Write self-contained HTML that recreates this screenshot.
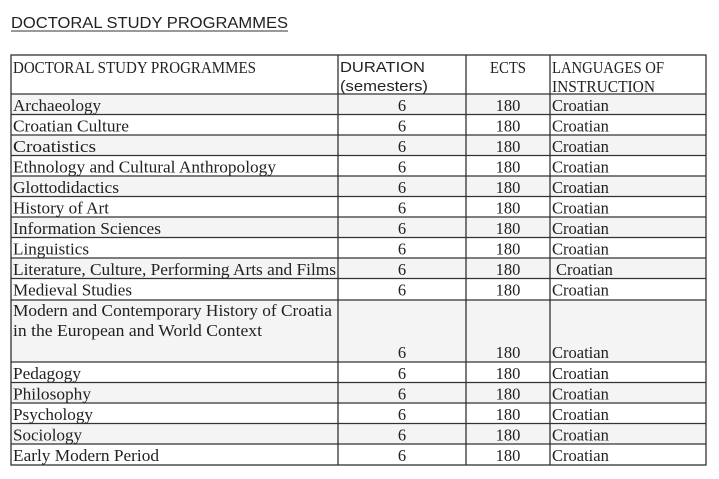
<!DOCTYPE html>
<html><head><meta charset="utf-8"><style>
html,body{margin:0;padding:0;background:#fff;width:719px;height:479px;overflow:hidden}
svg{display:block}
.s{font-family:"Liberation Serif",serif;font-size:16.5px;fill:#222}
.a{font-family:"Liberation Sans",sans-serif;font-size:15px;fill:#222}
</style></head><body>
<svg width="719" height="479" xmlns="http://www.w3.org/2000/svg">
<text x="11" y="28" class="a" style="font-size:16px" textLength="277" lengthAdjust="spacingAndGlyphs">DOCTORAL STUDY PROGRAMMES</text>
<line x1="11" y1="31" x2="288" y2="31" stroke="#333" stroke-width="1"/>
<g fill="#f4f4f4">
<rect x="11" y="94" width="695" height="20.5"/>
<rect x="11" y="135" width="695" height="20.5"/>
<rect x="11" y="176" width="695" height="20.5"/>
<rect x="11" y="217" width="695" height="20.5"/>
<rect x="11" y="258" width="695" height="20.5"/>
<rect x="11" y="300" width="695" height="62"/>
<rect x="11" y="382.5" width="695" height="20.5"/>
<rect x="11" y="423.5" width="695" height="20.5"/>
</g>
<g stroke="#333" stroke-width="1.3" fill="none">
<rect x="11" y="55" width="695" height="410"/>
<line x1="338" y1="55" x2="338" y2="465"/>
<line x1="466" y1="55" x2="466" y2="465"/>
<line x1="550" y1="55" x2="550" y2="465"/>
<line x1="11" y1="94" x2="706" y2="94"/>
<line x1="11" y1="114.5" x2="706" y2="114.5"/>
<line x1="11" y1="135" x2="706" y2="135"/>
<line x1="11" y1="155.5" x2="706" y2="155.5"/>
<line x1="11" y1="176" x2="706" y2="176"/>
<line x1="11" y1="196.5" x2="706" y2="196.5"/>
<line x1="11" y1="217" x2="706" y2="217"/>
<line x1="11" y1="237.5" x2="706" y2="237.5"/>
<line x1="11" y1="258" x2="706" y2="258"/>
<line x1="11" y1="278.5" x2="706" y2="278.5"/>
<line x1="11" y1="300" x2="706" y2="300"/>
<line x1="11" y1="362" x2="706" y2="362"/>
<line x1="11" y1="382.5" x2="706" y2="382.5"/>
<line x1="11" y1="403" x2="706" y2="403"/>
<line x1="11" y1="423.5" x2="706" y2="423.5"/>
<line x1="11" y1="444" x2="706" y2="444"/>
</g>
<g class="s" lengthAdjust="spacingAndGlyphs">
<text x="13" y="73" textLength="243" lengthAdjust="spacingAndGlyphs">DOCTORAL STUDY PROGRAMMES</text>
<text x="490" y="73" textLength="36" lengthAdjust="spacingAndGlyphs">ECTS</text>
<text x="552" y="73" textLength="112" lengthAdjust="spacingAndGlyphs">LANGUAGES OF</text>
<text x="552" y="92" textLength="103" lengthAdjust="spacingAndGlyphs">INSTRUCTION</text>
</g>
<text x="340" y="72" class="a" textLength="85" lengthAdjust="spacingAndGlyphs">DURATION</text>
<text x="340" y="91" class="a" textLength="88" lengthAdjust="spacingAndGlyphs">(semesters)</text>
<g class="s">
<text x="13" y="111" textLength="88" lengthAdjust="spacingAndGlyphs">Archaeology</text>
<text x="13" y="131.5" textLength="116" lengthAdjust="spacingAndGlyphs">Croatian Culture</text>
<text x="13" y="152" textLength="83" lengthAdjust="spacingAndGlyphs">Croatistics</text>
<text x="13" y="172.5" textLength="263" lengthAdjust="spacingAndGlyphs">Ethnology and Cultural Anthropology</text>
<text x="13" y="193" textLength="106" lengthAdjust="spacingAndGlyphs">Glottodidactics</text>
<text x="13" y="213.5" textLength="96" lengthAdjust="spacingAndGlyphs">History of Art</text>
<text x="13" y="234" textLength="148" lengthAdjust="spacingAndGlyphs">Information Sciences</text>
<text x="13" y="254.5" textLength="76" lengthAdjust="spacingAndGlyphs">Linguistics</text>
<text x="13" y="275" textLength="323" lengthAdjust="spacingAndGlyphs">Literature, Culture, Performing Arts and Films</text>
<text x="13" y="295.5" textLength="119" lengthAdjust="spacingAndGlyphs">Medieval Studies</text>
<text x="13" y="316" textLength="319" lengthAdjust="spacingAndGlyphs">Modern and Contemporary History of Croatia</text>
<text x="13" y="336" textLength="249" lengthAdjust="spacingAndGlyphs">in the European and World Context</text>
<text x="13" y="379" textLength="68" lengthAdjust="spacingAndGlyphs">Pedagogy</text>
<text x="13" y="399.5" textLength="78" lengthAdjust="spacingAndGlyphs">Philosophy</text>
<text x="13" y="420" textLength="80" lengthAdjust="spacingAndGlyphs">Psychology</text>
<text x="13" y="440.5" textLength="69" lengthAdjust="spacingAndGlyphs">Sociology</text>
<text x="13" y="461" textLength="146" lengthAdjust="spacingAndGlyphs">Early Modern Period</text>
</g>
<g class="s" text-anchor="middle">
<text x="402" y="111">6</text><text x="402" y="131.5">6</text><text x="402" y="152">6</text><text x="402" y="172.5">6</text><text x="402" y="193">6</text><text x="402" y="213.5">6</text><text x="402" y="234">6</text><text x="402" y="254.5">6</text><text x="402" y="275">6</text><text x="402" y="295.5">6</text><text x="402" y="358">6</text><text x="402" y="379">6</text><text x="402" y="399.5">6</text><text x="402" y="420">6</text><text x="402" y="440.5">6</text><text x="402" y="461">6</text>
<text x="508" y="111">180</text><text x="508" y="131.5">180</text><text x="508" y="152">180</text><text x="508" y="172.5">180</text><text x="508" y="193">180</text><text x="508" y="213.5">180</text><text x="508" y="234">180</text><text x="508" y="254.5">180</text><text x="508" y="275">180</text><text x="508" y="295.5">180</text><text x="508" y="358">180</text><text x="508" y="379">180</text><text x="508" y="399.5">180</text><text x="508" y="420">180</text><text x="508" y="440.5">180</text><text x="508" y="461">180</text>
</g>
<g class="s">
<text x="552" y="111">Croatian</text><text x="552" y="131.5">Croatian</text><text x="552" y="152">Croatian</text><text x="552" y="172.5">Croatian</text><text x="552" y="193">Croatian</text><text x="552" y="213.5">Croatian</text><text x="552" y="234">Croatian</text><text x="552" y="254.5">Croatian</text><text x="556" y="275">Croatian</text><text x="552" y="295.5">Croatian</text><text x="552" y="358">Croatian</text><text x="552" y="379">Croatian</text><text x="552" y="399.5">Croatian</text><text x="552" y="420">Croatian</text><text x="552" y="440.5">Croatian</text><text x="552" y="461">Croatian</text>
</g>
</svg>
</body></html>
